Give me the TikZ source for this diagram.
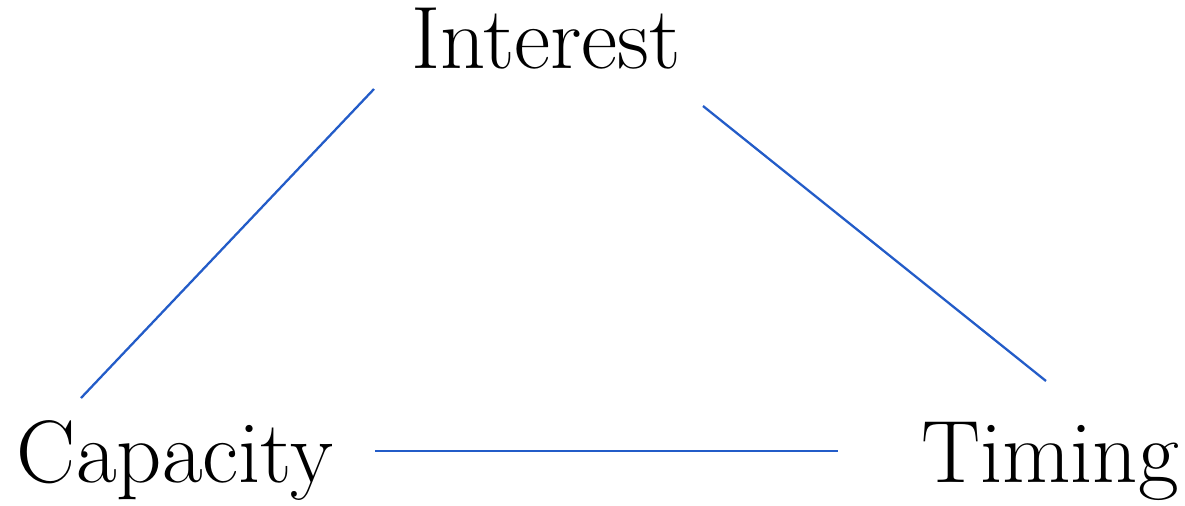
\documentclass[tikz,border=0pt]{standalone}
\usepackage{fontspec}
\definecolor{linkblue}{RGB}{35,92,200}
\begin{document}
\begin{tikzpicture}[x=0.01cm,y=-0.01cm,
  lbl/.style={inner sep=0pt,anchor=base,font=\fontsize{25.2}{30}\selectfont},
  link/.style={draw=linkblue,line width=0.65pt}]
\useasboundingbox (0,0) rectangle (1185,505);
\node[lbl] (int) at (546,68) {Interest};
\node[lbl] (cap) at (175,482) {Capacity};
\node[lbl] (tim) at (1050,482) {Timing};
\coordinate (ic) at (374,89);
\coordinate (ci) at (81,398);
\coordinate (it) at (703,106);
\coordinate (ti) at (1046,381);
\coordinate (ct) at (375,451);
\coordinate (tc) at (838,451);
\draw[link] (ic) -- (ci);
\draw[link] (it) -- (ti);
\draw[link] (ct) -- (tc);
\end{tikzpicture}
\end{document}
